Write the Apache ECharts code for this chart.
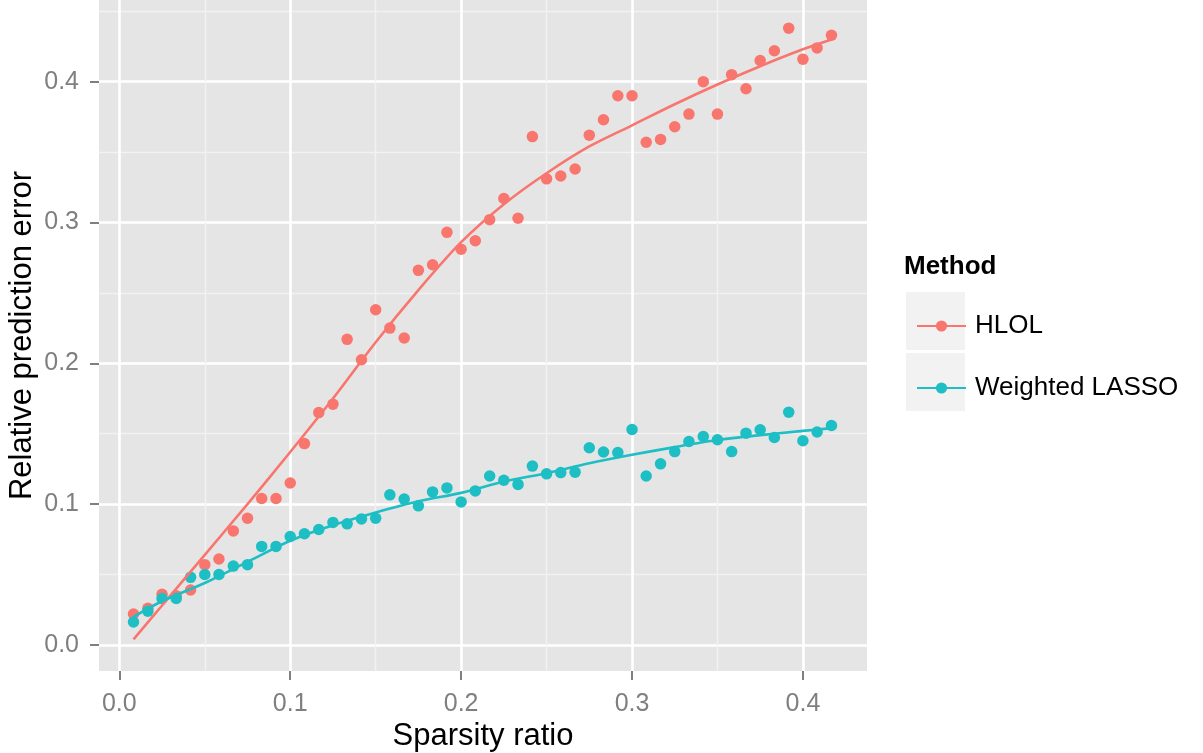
<!DOCTYPE html>
<html>
<head>
<meta charset="utf-8">
<script src="https://cdn.jsdelivr.net/npm/echarts@6/dist/echarts.min.js"></script>
<style>
  html, body { margin: 0; padding: 0; background: #fff; }
  #chart { width: 1203px; height: 753px; }
</style>
</head>
<body>
<div id="chart"></div>
<script>
const sparsity = [
  0.0083, 0.0167, 0.025, 0.0333, 0.0417, 0.05, 0.0583, 0.0667, 0.075, 0.0833,
  0.0917, 0.1, 0.1083, 0.1167, 0.125, 0.1333, 0.1417, 0.15, 0.1583, 0.1667,
  0.175, 0.1833, 0.1917, 0.2, 0.2083, 0.2167, 0.225, 0.2333, 0.2417, 0.25,
  0.2583, 0.2667, 0.275, 0.2833, 0.2917, 0.3, 0.3083, 0.3167, 0.325, 0.3333,
  0.3417, 0.35, 0.3583, 0.3667, 0.375, 0.3833, 0.3917, 0.4, 0.4083, 0.4167
];
const hlol = [
  0.022, 0.026, 0.036, 0.035, 0.039, 0.057, 0.061, 0.081, 0.090, 0.104,
  0.104, 0.115, 0.143, 0.165, 0.171, 0.217, 0.2025, 0.238, 0.225, 0.218,
  0.266, 0.270, 0.293, 0.281, 0.287, 0.302, 0.317, 0.303, 0.361, 0.331,
  0.333, 0.338, 0.362, 0.373, 0.390, 0.390, 0.357, 0.359, 0.368, 0.377,
  0.400, 0.377, 0.405, 0.395, 0.415, 0.422, 0.438, 0.416, 0.424, 0.433
];
const lasso = [
  0.0163, 0.024, 0.033, 0.033, 0.048, 0.050, 0.050, 0.056, 0.057, 0.070,
  0.070, 0.077, 0.079, 0.082, 0.087, 0.086, 0.0895, 0.090, 0.1066, 0.1036,
  0.0988, 0.1087, 0.1115, 0.1016, 0.1094, 0.120, 0.117, 0.114, 0.127, 0.1215,
  0.1224, 0.1227, 0.140, 0.137, 0.1366, 0.153, 0.120, 0.1286, 0.1373, 0.1445,
  0.148, 0.1457, 0.1373, 0.1504, 0.1528, 0.1473, 0.1653, 0.145, 0.1512, 0.1558
];

// smoothed fit
const fitX = [
  0.0083, 0.025, 0.05, 0.075, 0.1, 0.125, 0.15, 0.175, 0.2, 0.225,
  0.25, 0.275, 0.3, 0.325, 0.35, 0.375, 0.4, 0.4167
];
const hlolFit = [
  0.004, 0.028, 0.064, 0.100, 0.137, 0.175, 0.215, 0.252, 0.286, 0.313,
  0.335, 0.354, 0.369, 0.384, 0.398, 0.411, 0.423, 0.430
];
const lassoFit = [
  0.020, 0.031, 0.044, 0.059, 0.074, 0.085, 0.094, 0.102, 0.108, 0.116,
  0.122, 0.129, 0.135, 0.1405, 0.1455, 0.149, 0.152, 0.154
];

const xTicks = [0, 0.1, 0.2, 0.3, 0.4];
const xMinor = [0.05, 0.15, 0.25, 0.35];
const yTicks = [0, 0.1, 0.2, 0.3, 0.4];
const yMinor = [0.05, 0.15, 0.25, 0.35, 0.45];

const names = ['HLOL', 'Weighted LASSO'];
const colors = ['#F8766D', '#1DBEC4'];

const FONT = "'Liberation Sans', Arial, sans-serif";
const X_MIN = -0.0119, X_MAX = 0.4375;
const Y_MIN = -0.0185, Y_MAX = 0.458;

const zip = (xs, ys) => xs.map((x, i) => [x, ys[i]]);

function majorAxis(min, max, ticks, extra, margin) {
  return Object.assign({
    type: 'value',
    min: min,
    max: max,
    nameMoveOverlap: false,
    axisLine: { show: false, onZero: false },
    axisTick: {
      show: true, length: 9, customValues: ticks,
      lineStyle: { color: '#7F7F7F', width: 2 }
    },
    axisLabel: {
      customValues: ticks,
      formatter: v => v.toFixed(1),
      margin: margin,
      color: '#7F7F7F',
      fontSize: 25,
      fontFamily: FONT
    },
    splitLine: { show: true, lineStyle: { color: '#FFFFFF', width: 2.6 } },
    nameTextStyle: { color: '#000', fontSize: 31, fontFamily: FONT }
  }, extra);
}

function minorAxis(min, max, ticks) {
  return {
    type: 'value',
    min: min,
    max: max,
    axisLine: { show: false, onZero: false },
    axisTick: { show: false, customValues: ticks },
    axisLabel: { show: false },
    splitLine: { show: true, lineStyle: { color: '#F2F2F2', width: 1.4 } }
  };
}

const chart = echarts.init(document.getElementById('chart'), null, { renderer: 'canvas' });

const series = [];
[hlolFit, lassoFit].forEach((fit, k) => {
  series.push({
    name: names[k],
    type: 'line',
    data: zip(fitX, fit),
    smooth: 0.3,
    symbol: 'circle',
    symbolSize: 11,
    showSymbol: false,
    lineStyle: { color: colors[k], width: 2.6 },
    itemStyle: { color: colors[k] },
    z: 3,
    silent: true
  });
});
[hlol, lasso].forEach((vals, k) => {
  series.push({
    name: names[k],
    type: 'scatter',
    data: zip(sparsity, vals),
    symbol: 'circle',
    symbolSize: 11.5,
    itemStyle: { color: colors[k], opacity: 1 },
    z: 2,
    silent: true
  });
});

chart.setOption({
  animation: false,
  backgroundColor: '#FFFFFF',
  textStyle: { fontFamily: FONT },
  grid: {
    left: 99, right: 336, top: 0, bottom: 82,
    outerBoundsMode: 'none',
    show: true, backgroundColor: '#E5E5E5', borderWidth: 0
  },
  xAxis: [
    majorAxis(X_MIN, X_MAX, xTicks, {
      name: 'Sparsity ratio', nameLocation: 'middle', nameGap: 50
    }, 21),
    minorAxis(X_MIN, X_MAX, xMinor)
  ],
  yAxis: [
    majorAxis(Y_MIN, Y_MAX, yTicks, {
      name: 'Relative prediction error', nameLocation: 'middle', nameGap: 61
    }, 20),
    minorAxis(Y_MIN, Y_MAX, yMinor)
  ],
  legend: {
    data: names,
    orient: 'vertical',
    left: 911,
    top: 308,
    itemWidth: 49,
    itemHeight: 14,
    itemGap: 36,
    selectedMode: false,
    textStyle: { color: '#000', fontSize: 26, fontFamily: FONT, padding: [0, 0, 0, 4] }
  },
  graphic: [
    { type: 'rect', z: 0, shape: { x: 906, y: 292, width: 59, height: 58 }, style: { fill: '#F2F2F2' } },
    { type: 'rect', z: 0, shape: { x: 906, y: 353, width: 59, height: 58 }, style: { fill: '#F2F2F2' } },
    {
      type: 'text', z: 5, x: 904, y: 267,
      style: { text: 'Method', fill: '#000', font: 'bold 26px ' + FONT, verticalAlign: 'middle' }
    }
  ],
  series: series
});
</script>
</body>
</html>
